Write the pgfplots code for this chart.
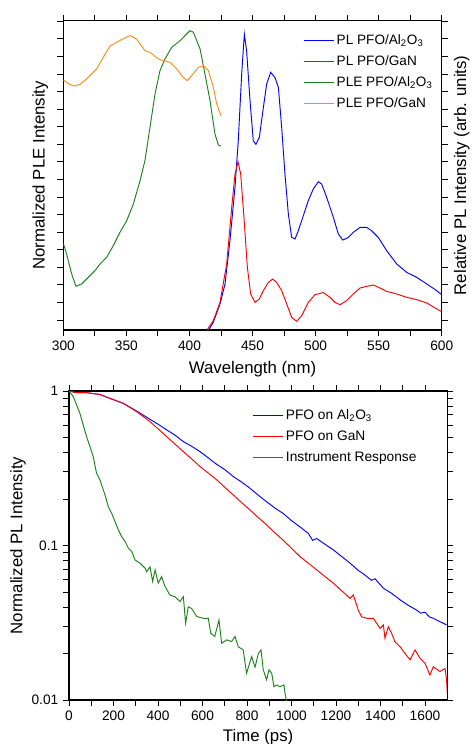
\documentclass[border=0pt]{standalone}
\usepackage{fontspec}
\setmainfont{Liberation Sans}
\usepackage{pgfplots}
\pgfplotsset{compat=1.18}
\definecolor{plegreen}{RGB}{25,130,25}
\definecolor{pleorange}{RGB}{255,140,25}

\pgfplotsset{
  panel/.style={
    scale only axis,
    anchor=south west,
    tick align=outside,
    tick pos=both,
    xticklabel pos=lower,
    yticklabel pos=left,
    major tick length=4.5pt,
    minor tick length=4.5pt,
    axis line style={line width=0.9pt},
    every tick/.style={line width=0.7pt, black},
    /pgf/number format/assume math mode=true,
    /pgf/number format/1000 sep={},
    ticklabel style={font=\fontsize{10.3}{12}\selectfont},
    label style={font=\fontsize{12.6}{14}\selectfont},
    legend cell align=left,
    legend image code/.code={\draw[##1] (0pt,0pt) -- (22.5pt,0pt);},
    every axis plot/.append style={line width=0.7pt},
  }
}

\begin{document}
\begin{tikzpicture}
\path[use as bounding box] (0,0) rectangle (354pt,558pt);

% top: PL and PLE spectra
\begin{axis}[
  panel,
  name=top,
  at={(47.5pt,310.5pt)},
  width=283.8pt, height=232pt,
  xmin=300, xmax=600,
  ymin=-0.57, ymax=17.04,
  xtick={300,350,...,600},
  minor x tick num=1,
  ytick={0,...,17},
  yticklabels={},
  xlabel={Wavelength (nm)},
  ylabel={Normalized PLE Intensity},
  xlabel style={at={(axis description cs:0.5,-0.126)}, anchor=center},
  ylabel style={at={(axis description cs:-0.061,0.5)}, anchor=center},
  legend style={draw=none, fill=none, at={(0.633,0.965)}, anchor=north west,
    font=\fontsize{10.2}{11.5}\selectfont, row sep=3pt, inner sep=0pt},
]
\addplot[blue] coordinates {
 (415,-0.6) (418.9,-0.13) (424.2,0.91) (428.2,2.05) (432.1,4.52) (436.1,7.55)
 (438.7,10.2) (441.4,14.0) (443.5,16.28) (445.3,15.33) (448,12.49) (450.6,10.2)
 (452.7,10.0) (455.4,10.4) (458.6,12.1) (461.2,13.43) (464.4,14.1) (467.8,13.8)
 (470.5,13.24) (473.1,10.97) (475.7,8.31) (478.4,6.03) (481,4.71) (483.7,4.61)
 (486.3,5.08) (490.3,5.94) (494.2,6.79) (498.2,7.46) (502.2,7.87) (504.8,7.74)
 (508.8,6.98) (514.1,5.84) (518,4.9) (521.5,4.55) (526,4.7) (529.9,4.99)
 (535.2,5.27) (540.5,5.27) (544.4,5.08) (549.7,4.7) (556.3,3.95) (564.3,3.19)
 (572.2,2.71) (580.1,2.43) (588.1,2.05) (596,1.67) (600,1.44)
};
\addplot[red] coordinates {
 (413.6,-0.6) (418.9,-0.04) (424.2,1.0) (429.5,3.19) (433.5,6.41) (436.1,8.31)
 (438.5,9.01) (440.6,8.31) (443.2,5.84) (445.9,3.0) (448.5,1.48) (452,1.0)
 (455.4,1.2) (458.6,1.67) (462.5,2.14) (466,2.33) (469.1,2.14) (473.1,1.67)
 (477.1,0.91) (481,0.15) (485,-0.08) (489,0.25) (494.2,1.0) (499.5,1.44)
 (506.1,1.56) (511.4,1.29) (515.4,1.0) (519.3,0.87) (524.6,1.1) (529.9,1.48)
 (535.2,1.82) (540.5,1.92) (545.8,1.99) (551.1,1.82) (556.3,1.63) (564.3,1.48)
 (572.2,1.29) (580.1,1.16) (588.1,0.97) (596,0.63) (600,0.47)
};
\addplot[plegreen] coordinates {
 (300,4.36) (302.6,3.76) (306.6,2.62) (310,1.92) (314.5,2.05) (319.8,2.43)
 (325.1,2.81) (329.1,3.19) (334.4,3.57) (339.6,4.23) (344.9,4.99) (350.2,5.65)
 (355.5,6.6) (360.8,7.93) (364.7,9.07) (368.7,10.97) (372.7,12.87) (376.6,14.19)
 (380.6,14.86) (385.9,15.52) (392.5,15.9) (396.5,16.19) (400.4,16.47) (403.1,16.38)
 (408.4,15.43) (412.3,14.0) (416.3,12.49) (420.2,10.59) (422.9,9.96) (425,9.9)
};
\addplot[pleorange] coordinates {
 (300,13.66) (304,13.45) (308.5,13.32) (313,13.4) (318.5,13.72) (326.4,14.29)
 (332,15.0) (337,15.6) (342,15.8) (347,16.0) (352.9,16.19) (358,16.0)
 (364.7,15.33) (368.7,15.24) (375.3,14.86) (379.3,14.76) (384.6,14.67)
 (389.9,14.29) (395.1,13.81) (398.3,13.62) (401.7,13.91) (407,14.38) (411,14.48)
 (415,14.19) (418.9,13.25) (421.6,12.3) (425,11.63)
};
\legend{PL PFO/Al\textsubscript{2}O\textsubscript{3}, PL PFO/GaN,
  PLE PFO/Al\textsubscript{2}O\textsubscript{3}, PLE PFO/GaN}
\end{axis}
\node[rotate=90, font=\fontsize{12.6}{14}\selectfont] at ([xshift=15pt]top.east)
  {Relative PL Intensity (arb. units)};

% bottom: PL decay
\begin{axis}[
  panel,
  at={(51.75pt,33pt)},
  width=283.7pt, height=231.75pt,
  xmin=0, xmax=1700,
  ymode=log, ymin=0.01, ymax=1,
  xtick={0,200,...,1600},
  minor x tick num=1,
  ytick={0.01,0.1,1},
  yticklabels={0.01,0.1,1},
  minor ytick={0.02,0.03,0.04,0.05,0.06,0.07,0.08,0.09,0.2,0.3,0.4,0.5,0.6,0.7,0.8,0.9},
  xlabel={Time (ps)},
  ylabel={Normalized PL Intensity},
  xlabel style={at={(axis description cs:0.5,-0.12)}, anchor=center},
  ylabel style={at={(axis description cs:-0.135,0.5)}, anchor=center},
  legend style={draw=none, fill=none, at={(0.484,0.95)}, anchor=north west,
    font=\fontsize{10.3}{12}\selectfont, row sep=3pt, inner sep=0pt},
]
\addplot[blue] coordinates {
 (0,1) (34,0.975) (79,0.975) (139,0.95) (184,0.896) (244,0.832) (304,0.742)
 (364,0.656) (400,0.61) (439,0.56) (475,0.52) (514,0.47) (550,0.44) (589,0.405)
 (625,0.37) (664,0.335) (700,0.31) (739,0.279) (775,0.258) (813,0.235)
 (850,0.212) (888,0.192) (925,0.175) (963,0.161) (1000,0.145) (1038,0.132)
 (1075,0.12) (1095,0.108) (1113,0.111) (1150,0.102) (1188,0.0937) (1225,0.085)
 (1263,0.0769) (1300,0.069) (1320,0.066) (1338,0.0630) (1360,0.0595) (1375,0.061)
 (1413,0.0529) (1450,0.049) (1488,0.0445) (1525,0.041) (1545,0.0395) (1562,0.0382)
 (1580,0.0365) (1600,0.037) (1620,0.0345) (1637,0.0338) (1660,0.0325) (1680,0.0315) (1697,0.0306)
};
\addplot[red] coordinates {
 (0,1) (34,0.975) (79,0.975) (139,0.95) (184,0.896) (244,0.832) (304,0.735)
 (364,0.633) (400,0.57) (439,0.506) (475,0.455) (514,0.405) (550,0.365) (589,0.324)
 (625,0.295) (664,0.266) (700,0.238) (739,0.212) (775,0.19) (813,0.170)
 (850,0.152) (888,0.136) (925,0.121) (963,0.108) (1000,0.096) (1038,0.0848)
 (1075,0.077) (1113,0.0696) (1150,0.063) (1188,0.0570) (1225,0.051)
 (1263,0.0455) (1278,0.0478) (1300,0.0382) (1315,0.0346) (1338,0.0338)
 (1368,0.0338) (1383,0.0313) (1398,0.0291) (1413,0.0306) (1420,0.0251)
 (1435,0.0298) (1450,0.0270) (1465,0.0238) (1488,0.0221) (1510,0.0200)
 (1533,0.0182) (1555,0.0211) (1578,0.0186) (1600,0.0173) (1622,0.0145)
 (1637,0.0164) (1667,0.0153) (1690,0.0160) (1697,0.0135) (1700,0.011)
};
\addplot[plegreen] coordinates {
 (0,1) (19.5,0.919) (49,0.717) (79,0.506) (109,0.376) (124,0.293) (139,0.266)
 (162,0.212) (177,0.178) (192,0.161) (207,0.143) (222,0.126) (237,0.114)
 (252,0.106) (267,0.0961) (282,0.0914) (297,0.0805) (319,0.0769) (342,0.0713)
 (349,0.0676) (364,0.0729) (376,0.0585) (387,0.0696) (401,0.0570) (416,0.0629)
 (431,0.0545) (454,0.0477) (476,0.0466) (499,0.0434) (514,0.0466) (524,0.0314)
 (536,0.0401) (551,0.0391) (574,0.0347) (603,0.0338) (626,0.0338) (637,0.0270)
 (655,0.0258) (674,0.0329) (686,0.0233) (709,0.0245) (731,0.0239) (746,0.0258)
 (761,0.0221) (783,0.0211) (798,0.0149) (821,0.0191) (836,0.0163) (851,0.0200)
 (863,0.0211) (873,0.0157) (888,0.0135) (899,0.0157) (911,0.0149) (921,0.0122)
 (933,0.0125) (948,0.0122) (966,0.0125) (971,0.0110) (978,0.0098)
};
\legend{PFO on Al\textsubscript{2}O\textsubscript{3}, PFO on GaN, Instrument Response}
\end{axis}
\end{tikzpicture}
\end{document}
